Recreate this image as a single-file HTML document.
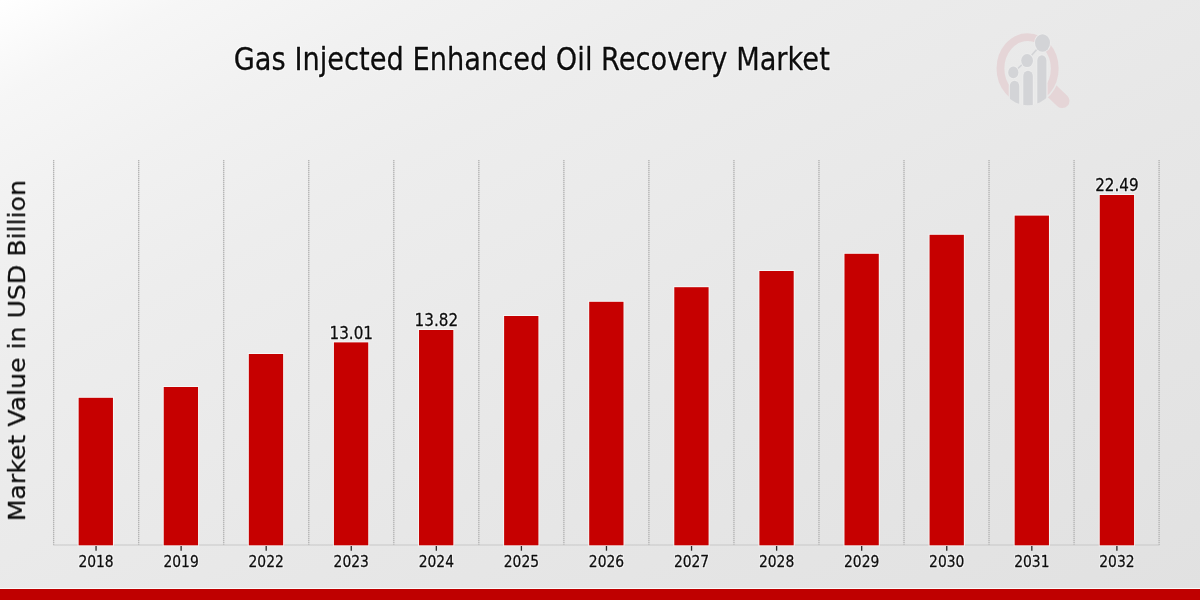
<!DOCTYPE html>
<html><head><meta charset="utf-8"><title>Gas Injected Enhanced Oil Recovery Market</title><style>
html,body{margin:0;padding:0;width:1200px;height:600px;overflow:hidden}
body{background:linear-gradient(152deg,#ffffff 0%,#f6f6f6 8%,#f1f1f1 18%,#ededed 30%,#eaeaea 45%,#e7e7e7 60%,#e1e1e1 100%)}
svg{position:absolute;left:0;top:0}
.grid line{stroke:#acacac;stroke-width:1.05;stroke-dasharray:1.1 0.9}
.gridu line{stroke:#d2d2d2;stroke-width:1}
.axis{stroke:#c8c8c8;stroke-width:1.1}
.bars rect{fill:#c60000;stroke:#ffffff;stroke-opacity:0.6;stroke-width:2;paint-order:stroke}
.ticks line{stroke:#2a2a2a;stroke-width:1.3}
text{font-family:"DejaVu Sans","Liberation Sans",sans-serif;fill:#0d0d0d;stroke:#0d0d0d;stroke-width:0.25px;stroke-linejoin:round}
.xl{font-size:13.89px;text-anchor:middle}
.vl{font-size:15.2px;text-anchor:middle}
.tt{font-size:27.26px}
.yl{font-size:22.26px}
</style></head><body>
<svg width="1200" height="600" viewBox="0 0 1200 600">
<g id="logo">
 <defs>
  <clipPath id="lc"><ellipse cx="1027.6" cy="68.6" rx="31.6" ry="36.6"/></clipPath>
  <clipPath id="hc"><path clip-rule="evenodd" d="M990 20 H1090 V120 H990 Z M995.1 68.5 a32.5 37 0 1 0 65 0 a32.5 37 0 1 0 -65 0 Z"/></clipPath>
 </defs>
 <path d="M1045 84.5 L1062.3 100.9" stroke="#e5d5d7" stroke-width="14.4" stroke-linecap="round" fill="none" clip-path="url(#hc)"/>
 <ellipse cx="1027.6" cy="68.5" rx="27.15" ry="31.3" fill="none" stroke="#e5d5d7" stroke-width="7.8"/>
 <rect x="1008.9" y="84" width="38.4" height="30" fill="#e9e9e9" clip-path="url(#lc)"/>
 <g clip-path="url(#lc)" fill="#d3d4d7" stroke="#ececec" stroke-width="2" paint-order="stroke">
  <path d="M1009.8 110 V86.1 A4.7 5.3 0 0 1 1019.2 86.1 V110 Z"/>
  <path d="M1023.3 110 V76.1 A4.75 5.3 0 0 1 1032.8 76.1 V110 Z"/>
  <path d="M1037.3 110 V60.5 A4.55 5.2 0 0 1 1046.4 60.5 V110 Z"/>
 </g>
 <path d="M1013.3 72.4 L1027.1 60.4 L1042.5 43" stroke="#d3d4d7" stroke-width="1.6" fill="none"/>
 <g fill="#d3d4d7" stroke="#ececec" stroke-width="2" paint-order="stroke">
  <ellipse cx="1042.5" cy="43" rx="7.5" ry="8.7"/>
  <ellipse cx="1027.1" cy="60.6" rx="5.9" ry="6.5"/>
  <ellipse cx="1013.3" cy="72.4" rx="5.1" ry="5.8"/>
 </g>
</g>
<g class="gridu">
<line x1="53.70" y1="160" x2="53.70" y2="545"/>
<line x1="138.73" y1="160" x2="138.73" y2="545"/>
<line x1="223.76" y1="160" x2="223.76" y2="545"/>
<line x1="308.79" y1="160" x2="308.79" y2="545"/>
<line x1="393.82" y1="160" x2="393.82" y2="545"/>
<line x1="478.85" y1="160" x2="478.85" y2="545"/>
<line x1="563.88" y1="160" x2="563.88" y2="545"/>
<line x1="648.91" y1="160" x2="648.91" y2="545"/>
<line x1="733.94" y1="160" x2="733.94" y2="545"/>
<line x1="818.97" y1="160" x2="818.97" y2="545"/>
<line x1="904.00" y1="160" x2="904.00" y2="545"/>
<line x1="989.03" y1="160" x2="989.03" y2="545"/>
<line x1="1074.06" y1="160" x2="1074.06" y2="545"/>
<line x1="1159.09" y1="160" x2="1159.09" y2="545"/>
</g>
<g class="grid">
<line x1="53.70" y1="160" x2="53.70" y2="545"/>
<line x1="138.73" y1="160" x2="138.73" y2="545"/>
<line x1="223.76" y1="160" x2="223.76" y2="545"/>
<line x1="308.79" y1="160" x2="308.79" y2="545"/>
<line x1="393.82" y1="160" x2="393.82" y2="545"/>
<line x1="478.85" y1="160" x2="478.85" y2="545"/>
<line x1="563.88" y1="160" x2="563.88" y2="545"/>
<line x1="648.91" y1="160" x2="648.91" y2="545"/>
<line x1="733.94" y1="160" x2="733.94" y2="545"/>
<line x1="818.97" y1="160" x2="818.97" y2="545"/>
<line x1="904.00" y1="160" x2="904.00" y2="545"/>
<line x1="989.03" y1="160" x2="989.03" y2="545"/>
<line x1="1074.06" y1="160" x2="1074.06" y2="545"/>
<line x1="1159.09" y1="160" x2="1159.09" y2="545"/>
</g>
<line x1="53.2" y1="545" x2="1159.4" y2="545" class="axis"/>
<g class="bars">
<rect x="78.65" y="397.8" width="34.3" height="147.50"/>
<rect x="163.74" y="387.0" width="34.3" height="158.30"/>
<rect x="248.83" y="354.0" width="34.3" height="191.30"/>
<rect x="333.93" y="342.4" width="34.3" height="202.90"/>
<rect x="419.02" y="330.0" width="34.3" height="215.30"/>
<rect x="504.11" y="316.0" width="34.3" height="229.30"/>
<rect x="589.20" y="301.8" width="34.3" height="243.50"/>
<rect x="674.29" y="287.2" width="34.3" height="258.10"/>
<rect x="759.39" y="271.0" width="34.3" height="274.30"/>
<rect x="844.48" y="253.8" width="34.3" height="291.50"/>
<rect x="929.57" y="234.8" width="34.3" height="310.50"/>
<rect x="1014.66" y="215.6" width="34.3" height="329.70"/>
<rect x="1099.75" y="195.0" width="34.3" height="350.30"/>
</g>
<g class="ticks">
<line x1="96.05" y1="546" x2="96.05" y2="550.7"/>
<line x1="181.12" y1="546" x2="181.12" y2="550.7"/>
<line x1="266.19" y1="546" x2="266.19" y2="550.7"/>
<line x1="351.26" y1="546" x2="351.26" y2="550.7"/>
<line x1="436.33" y1="546" x2="436.33" y2="550.7"/>
<line x1="521.40" y1="546" x2="521.40" y2="550.7"/>
<line x1="606.47" y1="546" x2="606.47" y2="550.7"/>
<line x1="691.54" y1="546" x2="691.54" y2="550.7"/>
<line x1="776.61" y1="546" x2="776.61" y2="550.7"/>
<line x1="861.68" y1="546" x2="861.68" y2="550.7"/>
<line x1="946.75" y1="546" x2="946.75" y2="550.7"/>
<line x1="1031.82" y1="546" x2="1031.82" y2="550.7"/>
<line x1="1116.89" y1="546" x2="1116.89" y2="550.7"/>
</g>
<filter id="halo" x="-2%" y="-5%" width="104%" height="110%" color-interpolation-filters="sRGB">
 <feMorphology in="SourceAlpha" operator="dilate" radius="1.0" result="d"/>
 <feFlood flood-color="#ffffff" flood-opacity="0.55"/>
 <feComposite in2="d" operator="in" result="h"/>
 <feMerge><feMergeNode in="h"/><feMergeNode in="SourceGraphic"/></feMerge>
</filter>
<g filter="url(#halo)">
<text transform="translate(233.7,70.4) scale(1,1.19)" class="tt">Gas Injected Enhanced Oil Recovery Market</text>
<text transform="translate(25.0,521.3) rotate(-90) scale(1.1325,1)" class="yl">Market Value in USD Billion</text>
<text transform="translate(96.05,567.3) scale(1,1.15)" class="xl">2018</text>
<text transform="translate(181.12,567.3) scale(1,1.15)" class="xl">2019</text>
<text transform="translate(266.19,567.3) scale(1,1.15)" class="xl">2022</text>
<text transform="translate(351.26,567.3) scale(1,1.15)" class="xl">2023</text>
<text transform="translate(351.26,338.8) scale(1,1.115)" class="vl">13.01</text>
<text transform="translate(436.33,567.3) scale(1,1.15)" class="xl">2024</text>
<text transform="translate(436.33,326.1) scale(1,1.115)" class="vl">13.82</text>
<text transform="translate(521.40,567.3) scale(1,1.15)" class="xl">2025</text>
<text transform="translate(606.47,567.3) scale(1,1.15)" class="xl">2026</text>
<text transform="translate(691.54,567.3) scale(1,1.15)" class="xl">2027</text>
<text transform="translate(776.61,567.3) scale(1,1.15)" class="xl">2028</text>
<text transform="translate(861.68,567.3) scale(1,1.15)" class="xl">2029</text>
<text transform="translate(946.75,567.3) scale(1,1.15)" class="xl">2030</text>
<text transform="translate(1031.82,567.3) scale(1,1.15)" class="xl">2031</text>
<text transform="translate(1116.89,567.3) scale(1,1.15)" class="xl">2032</text>
<text transform="translate(1116.89,191) scale(1,1.115)" class="vl">22.49</text>
</g>
<line x1="0" y1="588.5" x2="1200" y2="588.5" stroke="#fafafa" stroke-width="1"/>
<rect x="0" y="589" width="1200" height="11" fill="#bf0000"/>
</svg>
</body></html>
